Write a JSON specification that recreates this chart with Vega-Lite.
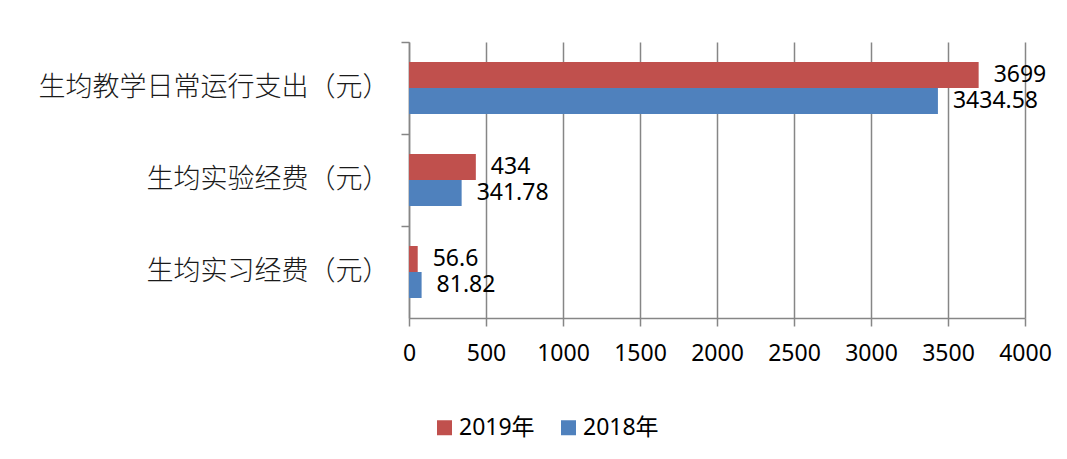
{
  "$schema": "https://vega.github.io/schema/vega-lite/v6.json",
  "autosize": "none",
  "width": 616,
  "height": 276,
  "padding": {"left": 409, "top": 42, "right": 42, "bottom": 141},
  "background": "white",
  "data": {
    "values": [
      {"item": "生均教学日常运行支出（元）", "year": "2019年", "value": 3699, "label": "3699"},
      {"item": "生均教学日常运行支出（元）", "year": "2018年", "value": 3434.58, "label": "3434.58"},
      {"item": "生均实验经费（元）", "year": "2019年", "value": 434, "label": "434"},
      {"item": "生均实验经费（元）", "year": "2018年", "value": 341.78, "label": "341.78"},
      {"item": "生均实习经费（元）", "year": "2019年", "value": 56.6, "label": "56.6"},
      {"item": "生均实习经费（元）", "year": "2018年", "value": 81.82, "label": "81.82"}
    ]
  },
  "encoding": {
    "y": {
      "field": "item",
      "type": "nominal",
      "sort": ["生均教学日常运行支出（元）", "生均实验经费（元）", "生均实习经费（元）"],
      "scale": {"paddingInner": 0, "paddingOuter": 0},
      "axis": {
        "title": null,
        "bandPosition": 0,
        "domainColor": "#868686",
        "domainWidth": 1.5,
        "tickColor": "#868686",
        "tickWidth": 1.5,
        "tickSize": 8,
        "labelPadding": 12,
        "labelFont": "Noto Sans CJK SC",
        "labelFontSize": 27,
        "labelColor": "#1a1a1a",
        "labelFontWeight": 300,
        "labelLimit": 500
      }
    },
    "yOffset": {
      "field": "year",
      "type": "nominal",
      "sort": ["2019年", "2018年"],
      "scale": {"paddingInner": 0, "paddingOuter": 0.769}
    },
    "x": {
      "field": "value",
      "type": "quantitative",
      "scale": {"domain": [0, 4000], "nice": false},
      "axis": {
        "title": null,
        "values": [0, 500, 1000, 1500, 2000, 2500, 3000, 3500, 4000],
        "format": "d",
        "grid": true,
        "gridColor": "#868686",
        "gridWidth": 1.5,
        "domainColor": "#868686",
        "domainWidth": 1.5,
        "tickColor": "#868686",
        "tickWidth": 1.5,
        "tickSize": 8,
        "labelPadding": 16,
        "labelFont": "Noto Sans",
        "labelFontSize": 23,
        "labelColor": "#000000",
        "labelFlush": false
      }
    }
  },
  "layer": [
    {
      "mark": {"type": "bar", "strokeWidth": 0},
      "encoding": {
        "color": {
          "field": "year",
          "type": "nominal",
          "sort": ["2019年", "2018年"],
          "scale": {"domain": ["2019年", "2018年"], "range": ["#C0504D", "#4F81BD"]},
          "legend": {
            "title": null,
            "orient": "none",
            "direction": "horizontal",
            "legendX": 24,
            "legendY": 374,
            "symbolType": "square",
            "symbolSize": 225,
            "symbolStrokeWidth": 0,
            "symbolOpacity": 1,
            "labelFont": "Noto Sans, Noto Sans CJK SC",
            "labelFontSize": 23,
            "labelColor": "#000000",
            "labelOffset": 3,
            "columnPadding": 22,
            "labelLimit": 300
          }
        }
      }
    },
    {
      "mark": {
        "type": "text",
        "align": "left",
        "baseline": "middle",
        "dx": 15,
        "font": "Noto Sans",
        "fontSize": 23,
        "color": "#000000"
      },
      "encoding": {
        "text": {"field": "label", "type": "nominal"}
      }
    }
  ],
  "config": {"view": {"stroke": null}}
}
